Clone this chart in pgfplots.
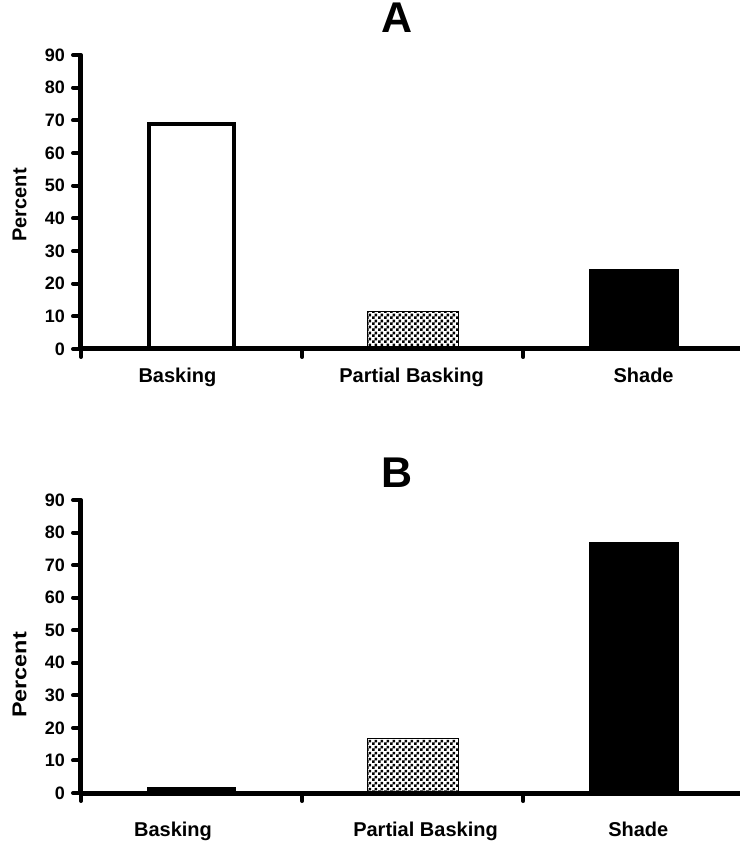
\documentclass[border=0pt]{standalone}
\usepackage{fontspec}
\setmainfont{Liberation Sans}
\usepackage{graphicx}
\usepackage{pgfplots}
\pgfplotsset{compat=1.18}
\usetikzlibrary{patterns.meta}
\pgfdeclarepattern{
  name=checker,
  type=uncolored,
  bottom left={\pgfpoint{0pt}{0pt}},
  top right={\pgfpoint{6pt}{6pt}},
  tile size={\pgfpoint{6pt}{6pt}},
  code={
    \pgfpathrectangle{\pgfpoint{0pt}{0pt}}{\pgfpoint{3pt}{3pt}}
    \pgfpathrectangle{\pgfpoint{3pt}{3pt}}{\pgfpoint{3pt}{3pt}}
    \pgfusepath{fill}
  }
}
\pgfplotsset{
  panel/.style={
    scale only axis, width=659pt,
    xmin=-0.5, xmax=2.48, ymin=0, ymax=90,
    axis x line=bottom, axis y line=left,
    axis line style={-, line width=5pt, black},
    axis on top,
    clip=false,
    tick align=outside,
    major tick length=8pt,
    every tick/.style={black, line width=4pt, line cap=round},
    ytick={0,10,...,90},
    xtick={-0.5,0.5,1.5},
    xticklabels={,,},
    /pgf/number format/assume math mode=true,
    yticklabel style={font=\fontsize{18}{20}\selectfont\bfseries, inner sep=0pt, xshift=-8pt},
    extra x tick style={major tick length=0pt, every tick/.style={draw=none},
      xticklabel style={anchor=north, inner sep=0pt, font=\fontsize{20}{22}\selectfont\bfseries}},
    title style={anchor=center, inner sep=0pt, font=\fontsize{43}{45}\selectfont\bfseries},
    ylabel style={anchor=center, inner sep=0pt, font=\fontsize{20}{22}\selectfont\bfseries},
  },
  openbar/.style={ybar, bar shift=0pt, bar width=85pt, draw=black, fill=white, line width=4pt},
  checkbar/.style={ybar, bar shift=0pt, bar width=91pt, draw=black, line width=0.8pt, fill=white, postaction={pattern=checker}},
  solidbar/.style={ybar, bar shift=0pt, bar width=90pt, draw=none, fill=black},
}
\begin{document}
\begin{tikzpicture}
\path[use as bounding box] (0,0) rectangle (740pt,841pt);
% Panel A
\begin{axis}[panel, at={(81pt,492pt)}, anchor=south west, height=294pt,
  title={A}, title style={at={(axis description cs:0.479,1.105)}},
  ylabel={Percent}, ylabel style={at={(axis description cs:-0.0933,0.49)}},
  extra x ticks={-0.064,0.995,2.044},
  extra x tick labels={Basking,Partial Basking,Shade},
  extra x tick style={xticklabel style={yshift=-19pt}},
]
\addplot[openbar] coordinates {(0,69)};
\addplot[checkbar] coordinates {(1,11.4)};
\addplot[solidbar] coordinates {(2,24.5)};
\end{axis}
% Panel B
\begin{axis}[panel, at={(81pt,48pt)}, anchor=south west, height=293pt,
  title={B}, title style={at={(axis description cs:0.479,1.072)}},
  ylabel={\scalebox{1.17}[1]{Percent}}, ylabel style={at={(axis description cs:-0.0933,0.403)}},
  extra x ticks={-0.084,1.058,2.02},
  extra x tick labels={Basking,Partial Basking,Shade},
  extra x tick style={xticklabel style={yshift=-29pt}},
]
\addplot[openbar] coordinates {(0,1.1)};
\addplot[checkbar] coordinates {(1,16.7)};
\addplot[solidbar] coordinates {(2,77.2)};
\end{axis}
\end{tikzpicture}
\end{document}
